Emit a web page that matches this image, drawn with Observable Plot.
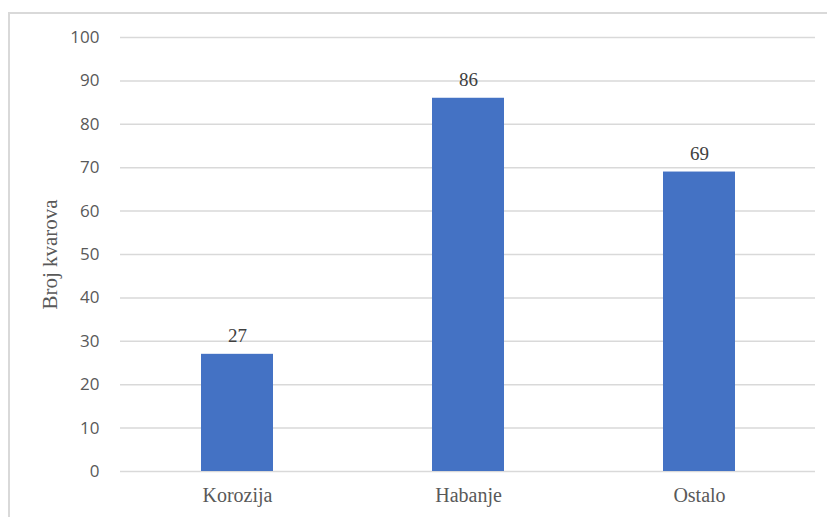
<!DOCTYPE html>
<html>
<head>
<meta charset="utf-8">
<script src="https://cdn.jsdelivr.net/npm/d3@7"></script>
<script src="https://cdn.jsdelivr.net/npm/@observablehq/plot@0.6"></script>
<style>
  html, body { margin: 0; padding: 0; background: #fff; }
  #wrap { position: relative; width: 827px; height: 517px; overflow: hidden; }
  #border { position: absolute; left: 8px; top: 12px; width: 840px; height: 540px; border: 2px solid #d9d9d9; box-sizing: border-box; pointer-events: none; }
  #chart { position: absolute; left: 0; top: 0; }
</style>
</head>
<body>
<div id="wrap"><div id="border"></div><div id="chart"></div></div>
<script>
const categories = ["Korozija", "Habanje", "Ostalo"];
const values = [27, 86, 69];
const yTicks = [0, 10, 20, 30, 40, 50, 60, 70, 80, 90, 100];
const yLabel = "Broj kvarova";

const data = categories.map((c, i) => ({category: c, value: values[i]}));

const chart = Plot.plot({
  width: 827,
  height: 517,
  marginLeft: 120,
  marginRight: 12,
  marginTop: 37,
  marginBottom: 46,
  style: {background: "transparent", overflow: "visible"},
  x: {domain: categories, paddingInner: 0.69, paddingOuter: 0.345, label: null},
  y: {domain: [0, 100], label: null},
  marks: [
    Plot.gridY(yTicks, {stroke: "#d9d9d9", strokeOpacity: 1, strokeWidth: 1.5}),
    Plot.axisY(yTicks, {tickSize: 0, tickPadding: 21, fontSize: 17, fill: "#595959", fontFamily: "Open Sans, Liberation Sans, sans-serif", label: null}),
    Plot.axisX({tickSize: 0, tickPadding: 16, fontSize: 20, fill: "#595959", fontFamily: "Liberation Serif, serif", label: null}),
    Plot.barY(data, {x: "category", y: "value", fill: "#4472C4"}),
    Plot.text(data, {x: "category", y: "value", text: d => String(d.value), dy: -12, lineAnchor: "bottom", fontSize: 19, fill: "#404040", fontFamily: "Liberation Serif, serif"}),
    Plot.text([yLabel], {frameAnchor: "left", dx: -70, rotate: -90, textAnchor: "middle", text: d => d, fontSize: 21, fill: "#595959", fontFamily: "Liberation Serif, serif"})
  ]
});
document.getElementById("chart").appendChild(chart);
</script>
</body>
</html>
